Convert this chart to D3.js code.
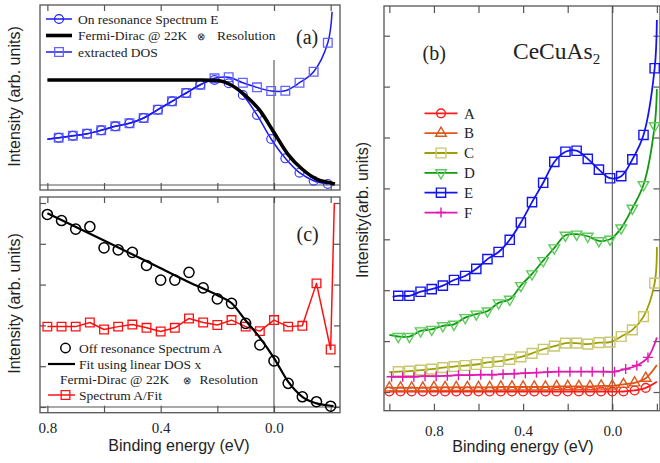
<!DOCTYPE html>
<html>
<head>
<meta charset="utf-8">
<script src="https://cdn.jsdelivr.net/npm/d3@7"></script>
<style>
    body { margin: 0; background: #fff; }
    svg text { font-family: "Liberation Serif", "Times New Roman", serif; fill: #222; }
    svg text.sans { font-family: "Liberation Sans", Arial, sans-serif; }
</style>
</head>
<body>
<svg id="chart" width="660" height="463"></svg>
<script>
// ---------- panel (a) ----------
const energyPanelA = [0.76, 0.71, 0.66, 0.61, 0.56, 0.51, 0.46, 0.41, 0.36, 0.31, 0.26, 0.21, 0.16, 0.11, 0.06, 0.01, -0.04, -0.09, -0.14, -0.19];
const onResonanceE = [0.450, 0.469, 0.488, 0.521, 0.559, 0.588, 0.638, 0.717, 0.797, 0.876, 0.955, 1.000, 0.969, 0.857, 0.667, 0.438, 0.254, 0.117, 0.041, 0.010];
const extractedDos = [0.450, 0.469, 0.488, 0.521, 0.559, 0.588, 0.638, 0.717, 0.797, 0.876, 0.955, 1.016, 1.026, 0.974, 0.930, 0.895, 0.898, 0.974, 1.079, 1.355];
const panelAHead = [0.80, 0.435];
const dosTail = [-0.205, 1.65];
const fermiEnergy = [0.80, 0.60, 0.40, 0.25, 0.20, 0.15, 0.10, 0.05, 0.00, -0.05, -0.10, -0.15, -0.20, -0.215];
const fermiDirac = [1, 1, 1, 1, 0.995, 0.95, 0.85, 0.71, 0.50, 0.29, 0.15, 0.057, 0.02, 0.01];

// ---------- panel (c) ----------
const energyPanelC = [0.80, 0.75, 0.70, 0.65, 0.60, 0.55, 0.50, 0.45, 0.40, 0.35, 0.30, 0.25, 0.20, 0.15, 0.10, 0.05, 0.00, -0.05, -0.10, -0.15, -0.20];
const offResonanceA = [4.72, 4.57, 4.36, 4.42, 3.90, 3.85, 3.79, 3.47, 3.11, 3.11, 3.30, 2.92, 2.65, 2.54, 2.05, 1.52, 1.13, 0.58, 0.25, 0.13, 0.02];
const ratioAFit = [1.97, 1.97, 1.97, 2.07, 1.90, 1.97, 2.02, 1.94, 1.85, 1.94, 2.17, 2.07, 2.01, 2.13, 1.97, 1.86, 2.13, 1.97, 1.99, 3.03, 1.41];
const ratioTail = [-0.213, 5.0];
const fitEnergy = [0.80, 0.60, 0.40, 0.30, 0.20, 0.15, 0.10, 0.05, 0.00, -0.05, -0.10, -0.15, -0.20, -0.21];
const fitLinearDos = [4.75, 4.08, 3.40, 3.06, 2.74, 2.55, 2.12, 1.70, 1.20, 0.62, 0.25, 0.09, 0.03, 0.02];

// ---------- panel (b) ----------
const energyAB = [1.00, 0.95, 0.90, 0.85, 0.80, 0.75, 0.70, 0.65, 0.60, 0.55, 0.50, 0.45, 0.40, 0.35, 0.30, 0.25, 0.20, 0.15, 0.10, 0.05, 0.00, -0.05, -0.10, -0.15];
const energyCDE = [0.96, 0.91, 0.86, 0.81, 0.76, 0.71, 0.66, 0.61, 0.56, 0.51, 0.46, 0.41, 0.36, 0.31, 0.26, 0.21, 0.16, 0.11, 0.06, 0.01, -0.04, -0.09, -0.14, -0.19];
const energyF = [0.99, 0.94, 0.89, 0.84, 0.79, 0.74, 0.69, 0.64, 0.59, 0.54, 0.49, 0.44, 0.39, 0.34, 0.29, 0.24, 0.19, 0.14, 0.09, 0.04, -0.01, -0.06, -0.11, -0.16];
const specA = [0.01, 0.01, 0.01, 0.01, 0.01, 0.01, 0.01, 0.01, 0.01, 0.01, 0.01, 0.01, 0.01, 0.01, 0.01, 0.01, 0.01, 0.01, 0.01, 0.01, 0.01, 0.01, 0.03, 0.08];
const specB = [0.08, 0.08, 0.08, 0.08, 0.09, 0.09, 0.09, 0.09, 0.09, 0.09, 0.10, 0.10, 0.10, 0.10, 0.10, 0.11, 0.11, 0.11, 0.11, 0.12, 0.12, 0.15, 0.18, 0.27];
const specC = [0.40, 0.41, 0.43, 0.45, 0.48, 0.50, 0.52, 0.54, 0.58, 0.60, 0.64, 0.69, 0.76, 0.84, 0.90, 0.96, 0.96, 0.94, 0.97, 0.98, 1.09, 1.22, 1.48, 2.14];
const specD = [1.09, 1.09, 1.20, 1.23, 1.30, 1.33, 1.46, 1.53, 1.59, 1.75, 1.82, 2.09, 2.32, 2.58, 2.83, 3.08, 3.10, 3.06, 2.97, 3.00, 3.22, 3.61, 4.07, 5.23];
const specE = [1.89, 1.89, 1.97, 2.02, 2.09, 2.20, 2.28, 2.42, 2.61, 2.75, 2.99, 3.33, 3.73, 4.11, 4.52, 4.72, 4.74, 4.58, 4.37, 4.20, 4.24, 4.57, 5.05, 6.36];
const specF = [0.30, 0.30, 0.30, 0.31, 0.31, 0.32, 0.33, 0.33, 0.34, 0.34, 0.35, 0.36, 0.37, 0.38, 0.39, 0.40, 0.40, 0.40, 0.40, 0.40, 0.40, 0.45, 0.52, 0.68];
const headsB = { C: [1.00, 0.39], D: [1.00, 1.12], E: [0.985, 1.87] };
const tailsB = { A: [-0.2, 0.20], B: [-0.2, 0.53], C: [-0.2, 2.85], D: [-0.2, 5.95], E: [-0.2, 7.31], F: [-0.2, 1.07] };
const spectrumNames = ["A", "B", "C", "D", "E", "F"];

const tickEnergiesAC = [0.8, 0.6, 0.4, 0.2, 0.0, -0.2];
const tickEnergiesB = [1.0, 0.8, 0.6, 0.4, 0.2, 0.0, -0.2];
const labelledEnergies = [0.8, 0.4, 0.0];

const svg = d3.select("#chart");
const frameColor = "#555";

// scales
const xA = d3.scaleLinear().domain([0.826, -0.233]).range([40, 340]);
const yA = d3.scaleLinear().domain([0, 1]).range([185, 80]);
const yC = d3.scaleLinear().domain([0, 5]).range([407, 203]);
const xB = d3.scaleLinear().domain([1.024, -0.214]).range([384, 660]);
const yB = d3.scaleLinear().domain([0, 7]).range([392, 35.7]);

const zip = (es, vs) => es.map((e, i) => [e, vs[i]]);

function marker(shape, size) {
    if (shape === "plus") return `M${-size / 2},0H${size / 2}M0,${-size / 2}V${size / 2}`;
    const types = { circle: d3.symbolCircle, square: d3.symbolSquare, triangle: d3.symbolTriangle, down: d3.symbolTriangle };
    return d3.symbol().type(types[shape]).size(size)();
}

function drawMarkers(g, pts, x, y, shape, size, color, width) {
    g.selectAll(null)
        .data(pts)
        .enter()
        .append("path")
        .attr("d", marker(shape, size))
        .attr("transform", d => `translate(${x(d[0])},${y(d[1])})` + (shape === "down" ? " rotate(180)" : ""))
        .attr("fill", "none")
        .attr("stroke", color)
        .attr("stroke-width", width);
}

function drawLine(g, pts, x, y, color, width, curve) {
    g.append("path")
        .datum(pts)
        .attr("d", d3.line().x(d => x(d[0])).y(d => y(d[1])).curve(curve))
        .attr("fill", "none")
        .attr("stroke", color)
        .attr("stroke-width", width)
        .attr("stroke-linejoin", "round");
}

function clipGroup(id, x, y, w, h) {
    svg.append("clipPath").attr("id", id)
        .append("rect").attr("x", x).attr("y", y).attr("width", w).attr("height", h);
    return svg.append("g").attr("clip-path", `url(#${id})`);
}

function axisTicks(axis, transform) {
    const g = svg.append("g").attr("transform", transform).call(axis);
    g.select(".domain").remove();
    g.selectAll(".tick line").attr("stroke", frameColor).attr("stroke-width", 1.2);
    return g;
}

const labelFmt = d => labelledEnergies.some(v => Math.abs(v - d) < 1e-6) ? d3.format(".1f")(d) : "";

// ===== panel (a) =====
svg.append("rect").attr("x", 40).attr("y", 5).attr("width", 300).attr("height", 185)
    .attr("fill", "none").attr("stroke", frameColor).attr("stroke-width", 1.3);
svg.append("line").attr("x1", 40).attr("x2", 340).attr("y1", yA(0)).attr("y2", yA(0))
    .attr("stroke", frameColor).attr("stroke-width", 1.2);
axisTicks(d3.axisBottom(xA).tickValues(tickEnergiesAC).tickSizeInner(-7).tickSizeOuter(0).tickFormat(""), "translate(0,190)");
axisTicks(d3.axisTop(xA).tickValues(tickEnergiesAC).tickSizeInner(-6).tickSizeOuter(0).tickFormat(""), "translate(0,5)");

const gA = clipGroup("clipA", 40, 5, 300, 185);
gA.append("line").attr("x1", xA(0)).attr("x2", xA(0)).attr("y1", 60).attr("y2", 190)
    .attr("stroke", "#444").attr("stroke-width", 1);

const dosPts = zip(energyPanelA, extractedDos);
const onResPts = zip(energyPanelA, onResonanceE);
drawLine(gA, [panelAHead].concat(dosPts, [dosTail]), xA, yA, "#1a1af5", 1.5, d3.curveCatmullRom.alpha(0.5));
drawMarkers(gA, dosPts, xA, yA, "square", 75, "#6262ff", 1.3);
drawLine(gA, [panelAHead].concat(onResPts), xA, yA, "#1a1af5", 1.5, d3.curveCatmullRom.alpha(0.5));
drawMarkers(gA, onResPts, xA, yA, "circle", 62, "#3a3aff", 1.2);
drawLine(gA, zip(fermiEnergy, fermiDirac), xA, yA, "#000", 3.6, d3.curveMonotoneX);

// legend (a)
const legA = svg.append("g").style("font-size", "13.5px");
legA.append("line").attr("x1", 46).attr("x2", 72).attr("y1", 19).attr("y2", 19).attr("stroke", "#1a1af5").attr("stroke-width", 1.5);
legA.append("path").attr("d", marker("circle", 62)).attr("transform", "translate(59,19)").attr("fill", "none").attr("stroke", "#1a1af5").attr("stroke-width", 1.2);
legA.append("text").attr("x", 78).attr("y", 23.5).text("On resonance Spectrum E");
legA.append("line").attr("x1", 46).attr("x2", 72).attr("y1", 35.5).attr("y2", 35.5).attr("stroke", "#000").attr("stroke-width", 3.6);
legA.append("text").attr("x", 78).attr("y", 40).text("Fermi-Dirac @ 22K");
legA.append("text").attr("x", 201).attr("y", 39.5).attr("text-anchor", "middle").style("font-size", "10px").text("\u2297");
legA.append("text").attr("x", 217).attr("y", 40).text("Resolution");
legA.append("line").attr("x1", 46).attr("x2", 72).attr("y1", 52).attr("y2", 52).attr("stroke", "#1a1af5").attr("stroke-width", 1.5);
legA.append("path").attr("d", marker("square", 75)).attr("transform", "translate(59,52)").attr("fill", "none").attr("stroke", "#6262ff").attr("stroke-width", 1.3);
legA.append("text").attr("x", 78).attr("y", 56.5).text("extracted DOS");
svg.append("text").attr("x", 296).attr("y", 44).style("font-size", "20px").text("(a)");

svg.append("text").attr("class", "sans")
    .attr("transform", "translate(20,96.5) rotate(-90)")
    .attr("text-anchor", "middle").style("font-size", "16px")
    .text("Intensity (arb. units)");

// ===== panel (c) =====
svg.append("rect").attr("x", 40).attr("y", 197).attr("width", 300).attr("height", 215.7)
    .attr("fill", "none").attr("stroke", frameColor).attr("stroke-width", 1.3);
svg.append("line").attr("x1", 40).attr("x2", 340).attr("y1", yC(0)).attr("y2", yC(0))
    .attr("stroke", frameColor).attr("stroke-width", 1.2);
const axC = axisTicks(d3.axisBottom(xA).tickValues(tickEnergiesAC).tickSizeInner(-7).tickSizeOuter(0).tickPadding(10).tickFormat(labelFmt), "translate(0,412.7)");
axC.selectAll("text").style("font-size", "15px").attr("fill", "#222");
axisTicks(d3.axisTop(xA).tickValues(tickEnergiesAC).tickSizeInner(-6).tickSizeOuter(0).tickFormat(""), "translate(0,197)");
axisTicks(d3.axisLeft(yC).tickValues([0, 1, 2, 3, 4, 5]).tickSizeInner(-6).tickSizeOuter(0).tickFormat(""), "translate(40,0)");
axisTicks(d3.axisRight(yC).tickValues([0, 1, 2, 3, 4, 5]).tickSizeInner(-6).tickSizeOuter(0).tickFormat(""), "translate(340,0)");

const gC = clipGroup("clipC", 40, 197, 300, 215.7);
gC.append("line").attr("x1", xA(0)).attr("x2", xA(0)).attr("y1", 197).attr("y2", 412.7)
    .attr("stroke", "#444").attr("stroke-width", 1);
const ratioPts = zip(energyPanelC, ratioAFit);
drawLine(gC, ratioPts.concat([ratioTail]), xA, yC, "#ff1010", 1.5, d3.curveLinear);
drawMarkers(gC, ratioPts, xA, yC, "square", 75, "#ff1010", 1.3);
drawLine(gC, zip(fitEnergy, fitLinearDos), xA, yC, "#000", 2.2, d3.curveMonotoneX);
drawMarkers(gC, zip(energyPanelC, offResonanceA), xA, yC, "circle", 80, "#000", 1.5);

// legend (c)
const legC = svg.append("g").style("font-size", "13.5px");
legC.append("path").attr("d", marker("circle", 70)).attr("transform", "translate(65.5,348)").attr("fill", "none").attr("stroke", "#000").attr("stroke-width", 1.5);
legC.append("text").attr("x", 79).attr("y", 352.5).text("Off resonance Spectrum A");
legC.append("line").attr("x1", 48).attr("x2", 75).attr("y1", 364).attr("y2", 364).attr("stroke", "#000").attr("stroke-width", 2.2);
legC.append("text").attr("x", 79).attr("y", 368.5).text("Fit using linear DOS x");
legC.append("text").attr("x", 60).attr("y", 384).text("Fermi-Dirac @ 22K");
legC.append("text").attr("x", 187).attr("y", 383.5).attr("text-anchor", "middle").style("font-size", "10px").text("\u2297");
legC.append("text").attr("x", 199.5).attr("y", 384).text("Resolution");
legC.append("line").attr("x1", 48).attr("x2", 75).attr("y1", 395).attr("y2", 395).attr("stroke", "#ff1010").attr("stroke-width", 1.5);
legC.append("path").attr("d", marker("square", 75)).attr("transform", "translate(65.5,395)").attr("fill", "none").attr("stroke", "#ff1010").attr("stroke-width", 1.3);
legC.append("text").attr("x", 79).attr("y", 399.5).text("Spectrum A/Fit");
svg.append("text").attr("x", 296.5).attr("y", 241).style("font-size", "20px").text("(c)");

svg.append("text").attr("class", "sans")
    .attr("transform", "translate(20,303.5) rotate(-90)")
    .attr("text-anchor", "middle").style("font-size", "16px")
    .text("Intensity (arb. units)");
svg.append("text").attr("class", "sans")
    .attr("x", 179).attr("y", 451).attr("text-anchor", "middle").style("font-size", "16px")
    .text("Binding energy (eV)");

// ===== panel (b) =====
svg.append("rect").attr("x", 384).attr("y", 6).attr("width", 276).attr("height", 404.7)
    .attr("fill", "none").attr("stroke", frameColor).attr("stroke-width", 1.3);
const axB = axisTicks(d3.axisBottom(xB).tickValues(tickEnergiesB).tickSizeInner(-7).tickSizeOuter(0).tickPadding(14.5).tickFormat(labelFmt), "translate(0,410.7)");
axB.selectAll("text").style("font-size", "15px").attr("fill", "#222");
axisTicks(d3.axisTop(xB).tickValues(tickEnergiesB).tickSizeInner(-7).tickSizeOuter(0).tickFormat(""), "translate(0,6)");
const levelsB = [0, 1, 2, 3, 4, 5, 6, 7];
axisTicks(d3.axisLeft(yB).tickValues(levelsB).tickSizeInner(-6).tickSizeOuter(0).tickFormat(""), "translate(384,0)");
axisTicks(d3.axisRight(yB).tickValues(levelsB).tickSizeInner(-6).tickSizeOuter(0).tickFormat(""), "translate(659.5,0)");

const gB = clipGroup("clipB", 384, 6, 276, 404.7);
gB.append("line").attr("x1", xB(0)).attr("x2", xB(0)).attr("y1", 6).attr("y2", 410.7)
    .attr("stroke", "#444").attr("stroke-width", 1);

const seriesB = [
    { name: "A", e: energyAB, v: specA, line: "#ff1a1a", mark: "#ff1a1a", shape: "circle", size: 60 },
    { name: "B", e: energyAB, v: specB, line: "#e0561a", mark: "#d9581c", shape: "triangle", size: 48 },
    { name: "C", e: energyCDE, v: specC, line: "#9e9e00", mark: "#c8c870", shape: "square", size: 95 },
    { name: "D", e: energyCDE, v: specD, line: "#109a10", mark: "#5ccb5c", shape: "down", size: 48 },
    { name: "E", e: energyCDE, v: specE, line: "#1414f0", mark: "#1414f0", shape: "square", size: 85 },
    { name: "F", e: energyF, v: specF, line: "#e01ab0", mark: "#e01ab0", shape: "plus", size: 10 }
];

seriesB.forEach(s => {
    const pts = zip(s.e, s.v);
    const full = (headsB[s.name] ? [headsB[s.name]] : []).concat(pts, [tailsB[s.name]]);
    drawLine(gB, full, xB, yB, s.line, 1.8, d3.curveCatmullRom.alpha(0.5));
    drawMarkers(gB, pts, xB, yB, s.shape, s.size, s.mark, 1.4);
});

// legend (b)
const legB = svg.append("g").style("font-size", "15px");
spectrumNames.forEach((name, i) => {
    const s = seriesB.find(d => d.name === name);
    const yy = 113.3 + i * 19.85;
    legB.append("line").attr("x1", 424.5).attr("x2", 457.5).attr("y1", yy).attr("y2", yy)
        .attr("stroke", s.line).attr("stroke-width", 1.8);
    legB.append("path").attr("d", marker(s.shape, s.size))
        .attr("transform", `translate(441,${yy})` + (s.shape === "down" ? " rotate(180)" : ""))
        .attr("fill", "none").attr("stroke", s.mark).attr("stroke-width", 1.4);
    legB.append("text").attr("x", 464).attr("y", yy + 5.3).text(name);
});

svg.append("text").attr("x", 422.5).attr("y", 60).style("font-size", "20px").text("(b)");
const title = svg.append("text").attr("x", 513).attr("y", 58.5).style("font-size", "23.5px");
title.append("tspan").text("CeCuAs");
title.append("tspan").attr("dy", 5).style("font-size", "15px").text("2");

svg.append("text").attr("class", "sans")
    .attr("transform", "translate(368,210) rotate(-90)")
    .attr("text-anchor", "middle").style("font-size", "16px")
    .text("Intensity(arb. units)");
svg.append("text").attr("class", "sans")
    .attr("x", 523).attr("y", 452).attr("text-anchor", "middle").style("font-size", "16px")
    .text("Binding energy (eV)");
</script>
</body>
</html>
